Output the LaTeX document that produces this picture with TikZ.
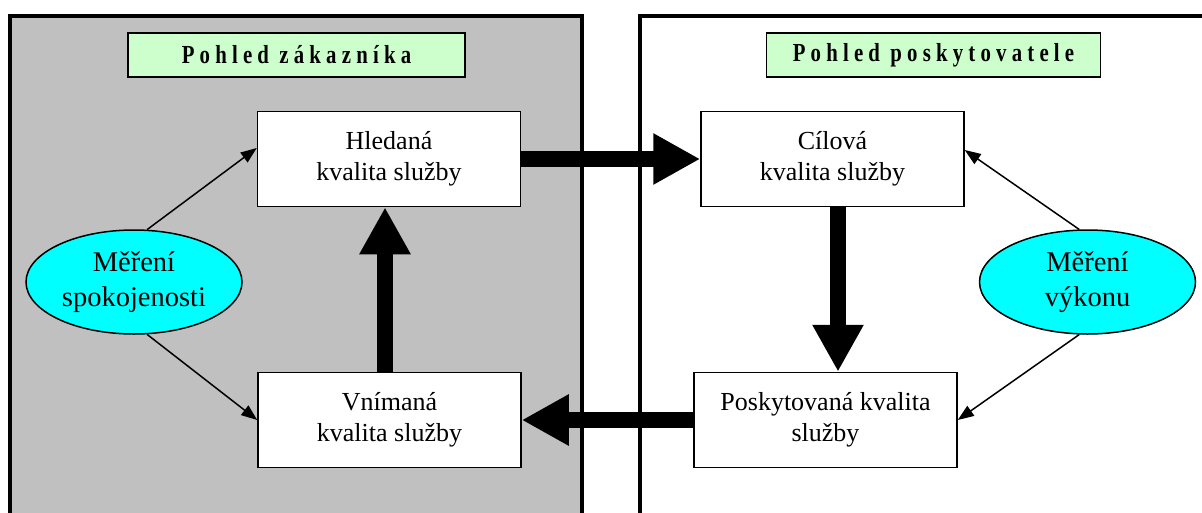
\documentclass[tikz,border=0pt]{standalone}
\usepackage{fontspec}
\setmainfont{Liberation Serif}
\usetikzlibrary{arrows.meta,shapes.geometric,calc}
\definecolor{panelgray}{HTML}{C0C0C0}
\definecolor{titlegreen}{HTML}{CCFFCC}
\definecolor{meascyan}{HTML}{00FFFF}
\newfontfamily\titlefont[FakeStretch=0.8,LetterSpace=20]{Liberation Serif Bold}
\begin{document}
\begin{tikzpicture}[x=1pt,y=-1pt,
 panelline/.style={line width=4pt},
 titlebox/.style={draw, line width=1.5pt, fill=titlegreen, minimum height=44pt, inner sep=0pt, font=\titlefont\fontsize{26}{30}\selectfont},
 qbox/.style={draw, line width=1.5pt, fill=white, minimum width=263pt, minimum height=95pt, inner sep=0pt, align=center, font=\fontsize{26}{31.5}\selectfont},
 meas/.style={ellipse, draw, line width=1.5pt, fill=meascyan, minimum width=216pt, minimum height=104pt, inner sep=0pt, align=center, font=\fontsize{28.5}{34.5}\selectfont},
 thinarrow/.style={line width=1.5pt, -{Triangle[length=16pt,width=12pt]}},
 bigarrow/.style={line width=16pt, -{Triangle[length=47pt,width=48pt]}}
]
\clip (0,0) rectangle (1202,512);
\fill[white] (0,0) rectangle (1202,512);
\draw[panelline, fill=panelgray] (10,16) rectangle (582,540);
\draw[panelline] (640,16) rectangle (1230,540);

\node[titlebox, minimum width=337pt] (tl) at (296.5,55) {Pohled zákazníka};
\node[titlebox, minimum width=334pt] (tr) at (933.5,55) {Pohled poskytovatele};

\node[qbox] (hled) at (389,159) {Hledaná\\kvalita služby};
\node[qbox] (cil) at (832.5,159) {Cílová\\kvalita služby};
\node[qbox] (vnim) at (389.5,420) {Vnímaná\\kvalita služby};
\node[qbox] (posk) at (825.5,420) {Poskytovaná kvalita\\služby};

\node[meas] (sat) at (134,282) {Měření\\spokojenosti};
\node[meas] (perf) at (1087.5,282) {Měření\\výkonu};

\coordinate (vx) at (838,0);
\coordinate (ux) at (385,0);
\draw[bigarrow] (hled.east) -- (cil.west);
\draw[bigarrow] (cil.south -| vx) -- (posk.north -| vx);
\draw[bigarrow] (vnim.north -| ux) -- (hled.south -| ux);
\draw[bigarrow] (posk.west) -- (vnim.east);

\draw[thinarrow] (sat.76) -- ($(hled.west)+(0,-11)$);
\draw[thinarrow] (sat.-76) -- (vnim.west);
\draw[thinarrow] (perf.99) -- ($(cil.east)+(0,-9)$);
\draw[thinarrow] (perf.-99) -- (posk.east);
\end{tikzpicture}
\end{document}
